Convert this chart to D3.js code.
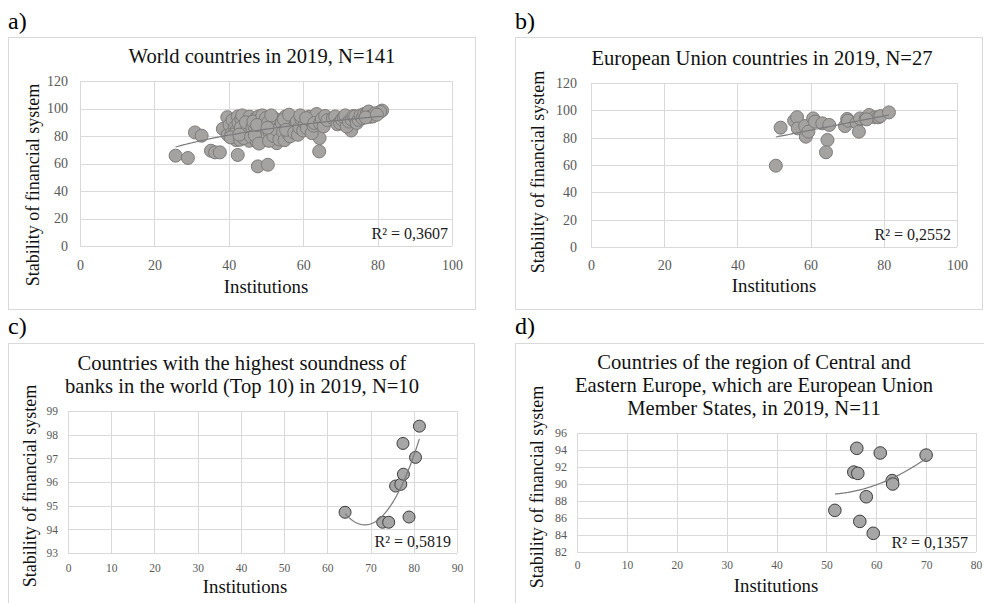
<!DOCTYPE html>
<html>
<head>
<meta charset="utf-8">
<script src="https://cdn.jsdelivr.net/npm/d3@7"></script>
<style>
  body { margin: 0; background: #fff; }
  svg text { font-family: "Liberation Serif", "Times New Roman", serif; }
</style>
</head>
<body>
<div id="chart"></div>
<script>
// a) World countries, N=141 (Institutions, Stability of financial system)
const worldInst = [25.7, 29.0, 30.9, 32.7, 35.2, 36.3, 37.6, 42.4, 47.8, 50.5, 64.3, 64.4, 72.9, 81.2, 80.7,
  38.4, 39.6, 39.7, 40.2, 40.8, 41.0, 41.3, 41.7, 42.0, 42.4, 42.1, 41.5, 40.5, 42.6,
  43.0, 43.4, 43.8, 44.2, 44.4, 44.8, 45.1, 45.5, 45.8, 43.2, 44.0, 45.0, 43.6, 42.8, 46.0, 45.6, 44.6, 46.3,
  46.9, 47.2, 47.5, 47.8, 48.0, 48.3, 48.6, 48.9, 49.3, 49.6, 49.8, 50.2, 47.0, 48.1, 46.6, 49.0, 50.0, 47.6,
  50.6, 51.0, 51.6, 51.9, 52.3, 52.6, 52.9, 53.2, 53.5, 53.8, 50.8, 51.4, 52.0, 53.0, 50.4, 53.6,
  54.3, 54.6, 55.0, 55.2, 55.6, 56.0, 56.5, 56.8, 57.1, 57.4, 57.8, 54.8, 56.2, 55.4, 57.6,
  58.3, 58.6, 59.0, 59.5, 60.0, 60.5, 61.0, 61.5, 62.0, 62.3, 62.8, 63.2, 63.6, 59.2, 60.8, 63.0,
  64.5, 65.0, 65.5, 65.9, 66.5, 68.0, 68.6, 69.2, 69.9, 70.4, 70.9, 71.3, 71.7, 72.3,
  73.0, 73.5, 74.0, 74.4, 74.9, 75.4, 75.9, 76.4, 77.1, 77.6, 78.0, 78.7, 79.3, 76.8, 79.8];
const worldStab = [65.7, 64.0, 82.6, 80.2, 69.3, 68.1, 68.1, 66.2, 57.9, 59.1, 68.8, 78.5, 84.0, 98.5, 97.6,
  85.2, 93.7, 80.9, 88.0, 82.0, 91.5, 79.7, 86.4, 77.0, 94.2, 84.0, 81.2, 79.0, 89.6,
  77.3, 92.0, 83.5, 80.0, 93.7, 88.0, 83.3, 76.5, 91.0, 86.0, 78.5, 85.5, 95.0, 81.0, 79.5, 94.0, 90.0, 86.0,
  86.9, 92.5, 76.1, 82.0, 94.2, 89.0, 79.0, 84.5, 91.7, 77.0, 87.5, 79.7, 80.5, 74.5, 90.5, 95.0, 93.0, 88.0,
  90.0, 82.5, 84.5, 93.5, 78.0, 88.5, 74.8, 91.5, 81.0, 86.9, 76.5, 95.0, 80.0, 84.0, 86.0, 77.5,
  89.5, 83.0, 77.0, 94.2, 87.0, 81.5, 79.7, 91.0, 85.0, 93.0, 88.5, 92.0, 95.5, 84.5, 82.5,
  90.5, 80.9, 86.0, 92.5, 84.0, 89.3, 85.7, 94.0, 91.0, 82.1, 87.5, 93.7, 96.0, 95.0, 93.0, 89.5,
  89.3, 92.5, 87.0, 94.6, 91.5, 93.0, 94.2, 88.5, 89.3, 92.0, 93.7, 95.0, 86.9, 90.5,
  92.0, 94.5, 94.2, 89.5, 91.7, 95.0, 93.0, 96.0, 96.6, 97.8, 94.0, 94.2, 96.5, 93.5, 95.5];

// b) European Union countries, N=27
const euInst = [50.5, 51.8, 55.5, 56.3, 56.5, 58.5, 58.7, 59.4, 60.7, 61.2, 63.2, 65.1, 64.6, 64.2,
  69.4, 70.0, 70.2, 72.6, 73.2, 73.5, 75.1, 76.0, 77.6, 78.5, 79.1, 81.4, 75.3];
const euStab = [59.5, 87.3, 92.4, 95.0, 86.8, 88.5, 80.7, 84.4, 94.1, 91.7, 90.5, 89.3, 78.3, 69.3,
  88.5, 93.7, 92.4, 91.0, 84.4, 94.1, 94.1, 96.6, 94.9, 94.9, 95.8, 98.5, 93.4];

// c) Top 10 soundness of banks, N=10
const topInst = [64.1, 72.8, 74.2, 75.8, 77.0, 77.6, 77.5, 78.9, 80.4, 81.3];
const topStab = [94.72, 94.3, 94.3, 95.83, 95.9, 96.33, 97.63, 94.52, 97.04, 98.36];

// d) Central and Eastern Europe EU members, N=11
const ceeInst = [56.1, 60.8, 70.0, 55.5, 56.3, 63.2, 63.3, 58.0, 51.7, 56.7, 59.4];
const ceeStab = [94.2, 93.65, 93.4, 91.4, 91.25, 90.4, 90.0, 88.5, 86.9, 85.6, 84.2];

const ticksX100 = [0, 20, 40, 60, 80, 100];
const ticksY120 = [0, 20, 40, 60, 80, 100, 120];
const ticksX90 = [0, 10, 20, 30, 40, 50, 60, 70, 80, 90];
const ticksY99 = [93, 94, 95, 96, 97, 98, 99];
const ticksX80 = [0, 10, 20, 30, 40, 50, 60, 70, 80];
const ticksY96 = [82, 84, 86, 88, 90, 92, 94, 96];

const W = 984, H = 603;
const svg = d3.select("#chart").append("svg").attr("width", W).attr("height", H);

// least squares polynomial fit (normal equations)
function polyFit(xs, ys, deg) {
  const n = deg + 1;
  const A = [];
  for (let i = 0; i < n; i++) {
    A.push(new Array(n + 1).fill(0));
    for (let j = 0; j < n; j++) A[i][j] = d3.sum(xs, x => Math.pow(x, i + j));
    A[i][n] = d3.sum(xs, (x, k) => Math.pow(x, i) * ys[k]);
  }
  for (let c = 0; c < n; c++) {
    let p = c;
    for (let r = c + 1; r < n; r++) if (Math.abs(A[r][c]) > Math.abs(A[p][c])) p = r;
    [A[c], A[p]] = [A[p], A[c]];
    for (let r = 0; r < n; r++) {
      if (r === c) continue;
      const f = A[r][c] / A[c][c];
      for (let k = c; k <= n; k++) A[r][k] -= f * A[c][k];
    }
  }
  const coef = A.map((row, i) => row[n] / row[i]);
  return x => coef.reduce((s, a, i) => s + a * Math.pow(x, i), 0);
}
function logFit(xs, ys) {
  const f = polyFit(xs.map(Math.log), ys, 1);
  return x => f(Math.log(x));
}

const panels = [
  {
    label: "a)", labelPos: [8, 29], frame: [8, 37, 467, 272],
    xs: worldInst, ys: worldStab, plot: [80, 452, 81, 246],
    xDom: [0, 100], yDom: [0, 120], xTicks: ticksX100, yTicks: ticksY120,
    tickSize: 14, yPad: 12, xPad: 14, yTickFont: null,
    title: ["World countries in 2019, N=141"], titlePos: [262, 63],
    xTitlePos: [266, 293], yTitlePos: [33, 185],
    r2: "R\u00b2 = 0,3607", r2Pos: [448, 239],
    fit: logFit(worldInst, worldStab), r: 6.5, fill: "#a5a2a2", stroke: "#7d7a7a"
  },
  {
    label: "b)", labelPos: [515, 29], frame: [515, 37, 467, 272],
    xs: euInst, ys: euStab, plot: [591, 957, 83, 247],
    xDom: [0, 100], yDom: [0, 120], xTicks: ticksX100, yTicks: ticksY120,
    tickSize: 14, yPad: 14, xPad: 13, yTickFont: null,
    title: ["European Union countries in 2019, N=27"], titlePos: [762, 65],
    xTitlePos: [774, 292], yTitlePos: [538, 172],
    r2: "R\u00b2 = 0,2552", r2Pos: [951, 240],
    fit: polyFit(euInst, euStab, 1), r: 6.5, fill: "#a5a2a2", stroke: "#7d7a7a"
  },
  {
    label: "c)", labelPos: [8, 334], frame: [8, 343, 466, 280],
    xs: topInst, ys: topStab, plot: [68, 457, 411, 553],
    xDom: [0, 90], yDom: [93, 99], xTicks: ticksX90, yTicks: ticksY99,
    tickSize: 11.5, yPad: 10, xPad: 11, yTickFont: null,
    title: ["Countries with the highest soundness of", "banks in the world (Top 10) in 2019, N=10"], titlePos: [242, 370],
    xTitlePos: [245, 593], yTitlePos: [30, 486],
    r2: "R\u00b2 = 0,5819", r2Pos: [451, 547],
    fit: polyFit(topInst, topStab, 2), r: 6, fill: "#a6a6a6", stroke: "#3c3c3c"
  },
  {
    label: "d)", labelPos: [515, 334], frame: [515, 343, 480, 280],
    xs: ceeInst, ys: ceeStab, plot: [577, 976, 433, 552],
    xDom: [0, 80], yDom: [82, 96], xTicks: ticksX80, yTicks: ticksY96,
    tickSize: 11.5, yPad: 10, xPad: 9, yTickFont: "Lato, 'Liberation Sans', sans-serif",
    title: ["Countries of the region of Central and", "Eastern Europe, which are European Union", "Member States, in 2019, N=11"], titlePos: [754, 369],
    xTitlePos: [776, 592], yTitlePos: [537, 487],
    r2: "R\u00b2 = 0,1357", r2Pos: [968, 548],
    fit: polyFit(ceeInst, ceeStab, 2), r: 6.3, fill: "#a6a6a6", stroke: "#3c3c3c"
  }
];

panels.forEach(p => {
  const g = svg.append("g");
  const [fx, fy, fw, fh] = p.frame;
  g.append("rect").attr("x", fx + 0.5).attr("y", fy + 0.5).attr("width", fw).attr("height", fh)
    .attr("fill", "#fff").attr("stroke", "#d9d9d9");
  g.append("text").attr("x", p.labelPos[0]).attr("y", p.labelPos[1])
    .attr("font-size", 24).attr("fill", "#000").text(p.label);

  const [x0, x1, y0, y1] = p.plot;
  const x = d3.scaleLinear().domain(p.xDom).range([x0, x1]);
  const y = d3.scaleLinear().domain(p.yDom).range([y1, y0]);

  const gx = g.append("g").attr("transform", `translate(0,${y1})`)
    .call(d3.axisBottom(x).tickValues(p.xTicks).tickFormat(d3.format("d"))
      .tickSize(-(y1 - y0)).tickPadding(p.xPad));
  const gy = g.append("g").attr("transform", `translate(${x0},0)`)
    .call(d3.axisLeft(y).tickValues(p.yTicks).tickFormat(d3.format("d"))
      .tickSize(-(x1 - x0)).tickPadding(p.yPad));
  [gx, gy].forEach(a => {
    a.select(".domain").remove();
    a.selectAll("line").attr("stroke", "#d9d9d9").attr("shape-rendering", "crispEdges");
    a.selectAll("text").attr("font-family", "'Liberation Serif', serif")
      .attr("font-size", p.tickSize).attr("fill", "#595959");
  });
  if (p.yTickFont) gy.selectAll("text").attr("font-family", p.yTickFont).attr("font-size", 12);

  g.selectAll("circle.pt").data(p.xs).join("circle")
    .attr("class", "pt")
    .attr("cx", v => x(v)).attr("cy", (v, i) => y(p.ys[i])).attr("r", p.r)
    .attr("fill", p.fill).attr("stroke", p.stroke).attr("stroke-width", 1);

  // trend line sits on top of the markers
  const [mn, mx] = d3.extent(p.xs);
  const pts = d3.range(0, 81).map(i => mn + (mx - mn) * i / 80);
  g.append("path")
    .attr("d", d3.line().x(v => x(v)).y(v => y(p.fit(v)))(pts))
    .attr("fill", "none").attr("stroke", "#7a7a7a").attr("stroke-width", 1.2);

  g.append("text").attr("x", p.r2Pos[0]).attr("y", p.r2Pos[1])
    .attr("text-anchor", "end").attr("font-size", 16).attr("fill", "#1a1a1a").text(p.r2);

  g.append("text").attr("x", p.titlePos[0]).attr("y", p.titlePos[1])
    .attr("text-anchor", "middle").attr("font-size", 20.6).attr("fill", "#111")
    .selectAll("tspan").data(p.title).join("tspan")
    .attr("x", p.titlePos[0]).attr("dy", (d, i) => i ? 23 : 0).text(d => d);

  g.append("text").attr("x", p.xTitlePos[0]).attr("y", p.xTitlePos[1])
    .attr("text-anchor", "middle").attr("font-size", 18.8).attr("fill", "#111").text("Institutions");
  g.append("text").attr("transform", `translate(${p.yTitlePos[0] + 6},${p.yTitlePos[1]}) rotate(-90)`)
    .attr("text-anchor", "middle").attr("font-size", 18).attr("fill", "#111")
    .text("Stability of financial system");
});
</script>
</body>
</html>
